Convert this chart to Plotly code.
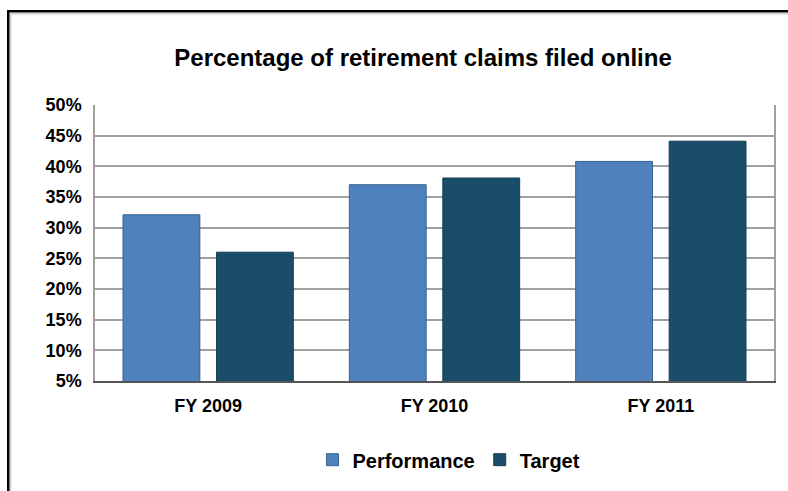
import plotly.graph_objects as go

categories = ["FY 2009", "FY 2010", "FY 2011"]
performance = [32.1, 37.0, 40.8]
target = [26.0, 38.1, 44.1]
y_ticks = [5, 10, 15, 20, 25, 30, 35, 40, 45, 50]
y_tick_labels = [f"{v}%" for v in y_ticks]

FONT = "Liberation Sans, Arial, sans-serif"

fig = go.Figure()
fig.add_trace(go.Bar(
    x=categories, y=performance, name="Performance", base=0,
    marker=dict(color="#4F81BD", line=dict(color="#34628F", width=1)),
))
fig.add_trace(go.Bar(
    x=categories, y=target, name="Target", base=0,
    marker=dict(color="#1A4D6A", line=dict(color="#143F58", width=1)),
))

L, R, T, B = 95, 12, 105, 109
W, H = 788, 491
pw, ph = W - L - R, H - T - B

def px_x(x):
    return (x - L) / pw

def px_y(y):
    return (H - B - y) / ph

fig.update_layout(
    width=W, height=H,
    margin=dict(l=L, r=R, t=T, b=B),
    paper_bgcolor="white", plot_bgcolor="white",
    barmode="group", bargap=0.174, bargroupgap=0.178,
    title=dict(text="<b>Percentage of retirement claims filed online</b>",
               xref="paper", x=px_x(424), xanchor="center", y=1 - 58 / H, yanchor="middle",
               font=dict(family=FONT, size=24, color="black")),
    font=dict(family=FONT, color="black"),
    xaxis=dict(showgrid=False, showline=True, linecolor="#555555", linewidth=1.5,
               ticks="", tickfont=dict(family=FONT, size=18, color="black", weight="bold"),
               ticklabelstandoff=8),
    yaxis=dict(range=[5, 50], tickvals=y_ticks, ticktext=y_tick_labels,
               showgrid=True, gridcolor="#A0A0A0", gridwidth=1.5,
               showline=True, linecolor="#A0A0A0", linewidth=1.5, mirror=True,
               ticks="", tickfont=dict(family=FONT, size=18, color="black", weight="bold"),
               ticklabelstandoff=8, zeroline=False),
    legend=dict(orientation="h", x=px_x(450), xanchor="center", y=px_y(461), yanchor="middle",
                font=dict(family=FONT, size=20, color="black", weight="bold"),
                tracegroupgap=0, bgcolor="rgba(0,0,0,0)"),
    showlegend=True,
)

# outer chart border (top and left visible, extends beyond image)
fig.add_shape(type="rect", xref="paper", yref="paper",
              x0=px_x(10.5), x1=px_x(W + 20), y0=px_y(H + 20), y1=px_y(13.5),
              line=dict(color="#BBBBBB", width=1), layer="below")
fig.add_shape(type="rect", xref="paper", yref="paper",
              x0=px_x(8), x1=px_x(W + 20), y0=px_y(H + 20), y1=px_y(11),
              line=dict(color="black", width=2.5), layer="below")

fig.write_html("out.html", config={"displayModeBar": False},
               post_script="document.body.style.margin='0';document.body.style.overflow='hidden';")
